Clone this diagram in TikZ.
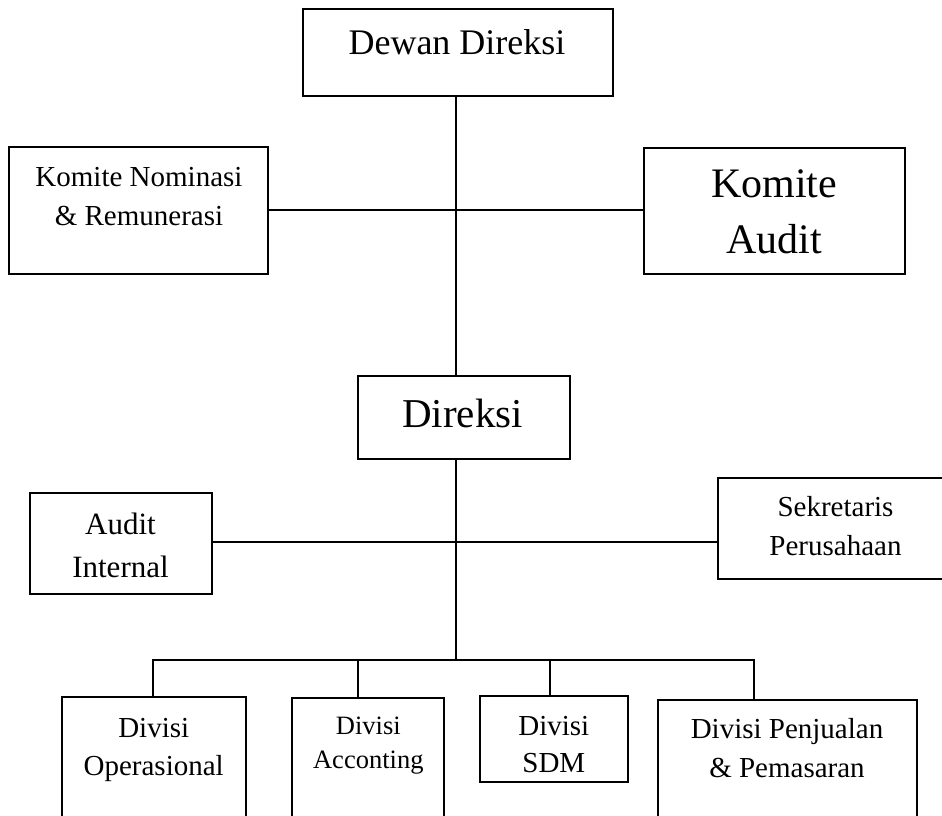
\documentclass[tikz,border=0pt]{standalone}
\usepackage{fontspec}
\setmainfont{Liberation Serif}
\tikzset{
  orgbox/.style={draw=black, line width=2pt, fill=none, inner sep=0pt},
  conn/.style={draw=black, line width=1.9pt},
  lbl/.style={anchor=base, inner sep=0pt, text=black},
}
\newcommand{\fs}[1]{\fontsize{#1}{#1}\selectfont}
\begin{document}
\begin{tikzpicture}[x=1pt, y=-1pt]
  \useasboundingbox (0,0) rectangle (942,816);
  \fill[white] (0,0) rectangle (942,816);
  \clip (0,0) rectangle (942,816);

  % boxes
  \node[orgbox, minimum width=310pt, minimum height=87pt]  (dw)  at (458,52.5) {};
  \node[orgbox, minimum width=259pt, minimum height=127pt] (kn)  at (138.5,210.5) {};
  \node[orgbox, minimum width=261pt, minimum height=126pt] (ka)  at (774.5,211) {};
  \node[orgbox, minimum width=212pt, minimum height=83pt]  (dir) at (464,417.5) {};
  \node[orgbox, minimum width=182pt, minimum height=101pt] (ai)  at (121,543.5) {};
  \node[orgbox, minimum width=235pt, minimum height=101pt] (sp)  at (835.5,528.5) {};
  \node[orgbox, minimum width=184pt, minimum height=160pt] (op)  at (154,777) {};
  \node[orgbox, minimum width=152pt, minimum height=160pt] (acc) at (368,778) {};
  \node[orgbox, minimum width=148pt, minimum height=86pt]  (sdm) at (554,739) {};
  \node[orgbox, minimum width=259pt, minimum height=160pt] (pj)  at (787.5,780) {};

  % labels
  \node[lbl, font=\fs{36}] (dwt) at (457,55) {Dewan Direksi};
  \node[lbl, font=\fs{29}] (knt1) at (139,186) {Komite Nominasi};
  \node[lbl, font=\fs{29}] (knt2) at (139,225) {\& Remunerasi};
  \node[lbl, font=\fs{42}] (kat1) at (774,197) {Komite};
  \node[lbl, font=\fs{42}] (kat2) at (774,253) {Audit};
  \node[lbl, font=\fs{41}] (dirt) at (462.5,427) {Direksi};
  \node[lbl, font=\fs{31}] (ait1) at (120.5,534) {Audit};
  \node[lbl, font=\fs{31}] (ait2) at (120.5,577) {Internal};
  \node[lbl, font=\fs{29}] (spt1) at (835.5,516) {Sekretaris};
  \node[lbl, font=\fs{29}] (spt2) at (835.5,555) {Perusahaan};
  \node[lbl, font=\fs{29}] (opt1) at (153.7,737) {Divisi};
  \node[lbl, font=\fs{29}] (opt2) at (153.7,775) {Operasional};
  \node[lbl, font=\fs{26.5}] (acct1) at (368.3,734) {Divisi};
  \node[lbl, font=\fs{26.5}] (acct2) at (368.3,768) {Acconting};
  \node[lbl, font=\fs{29}] (sdmt1) at (553.8,735) {Divisi};
  \node[lbl, font=\fs{29}] (sdmt2) at (553.8,772) {SDM};
  \node[lbl, font=\fs{29}] (pjt1) at (787,738) {Divisi Penjualan};
  \node[lbl, font=\fs{29}] (pjt2) at (787,777) {\& Pemasaran};

  % junction points of the connector tree
  \coordinate (spine) at (456,660);
  \coordinate (busL)  at (153,660);
  \coordinate (busR)  at (754,660);
  \coordinate (accTap) at (358,660);
  \coordinate (sdmTap) at (550,660);
  \coordinate (kRow) at (456,210);
  \coordinate (aRow) at (456,542);

  % connectors
  \draw[conn] (dw.south -| spine) -- (dir.north -| spine);
  \draw[conn] (kn.east |- kRow) -- (ka.west |- kRow);
  \draw[conn] (dir.south -| spine) -- (spine);
  \draw[conn] (ai.east |- aRow) -- (sp.west |- aRow);
  \draw[conn] (op.north -| busL) -- (busL) -- (busR) -- (busR |- pj.north);
  \draw[conn] (accTap) -- (accTap |- acc.north);
  \draw[conn] (sdmTap) -- (sdmTap |- sdm.north);
\end{tikzpicture}
\end{document}
